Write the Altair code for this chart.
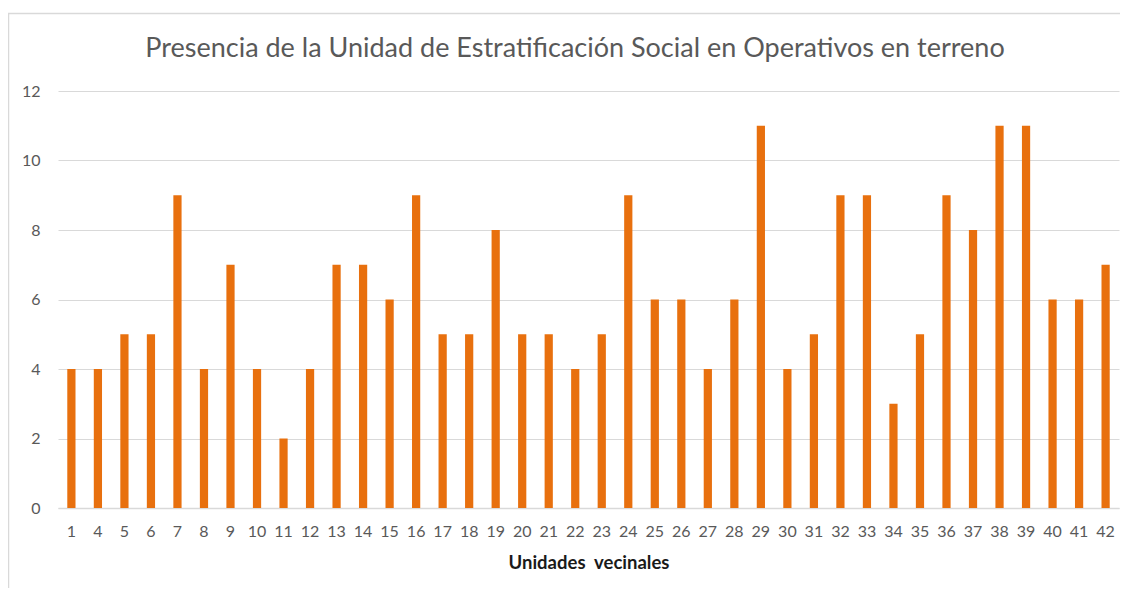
import altair as alt
import pandas as pd

categories = ["1", "4", "5", "6", "7", "8", "9", "10", "11", "12", "13", "14", "15", "16",
              "17", "18", "19", "20", "21", "22", "23", "24", "25", "26", "27", "28", "29",
              "30", "31", "32", "33", "34", "35", "36", "37", "38", "39", "40", "41", "42"]
values = [4, 4, 5, 5, 9, 4, 7, 4, 2, 4, 7, 7, 6, 9, 5, 5, 8, 5, 5, 4, 5, 9, 6, 6, 4, 6, 11,
          4, 5, 9, 9, 3, 5, 9, 8, 11, 11, 6, 6, 7]
title_text = ["Presencia de la Unidad de Estratificación Social en Operativos en terreno"]

df = pd.DataFrame({"uv": categories, "n": values})

FONT = "Lato"
GRAY = "#595959"

bars = alt.Chart(df).mark_bar(color="#E8700E").encode(
    x=alt.X("uv:N", sort=categories,
            scale=alt.Scale(paddingInner=0.69, paddingOuter=0.35),
            axis=alt.Axis(title="Unidades\u00a0\u00a0vecinales", labelAngle=0, ticks=False,
                          domainColor="#d9d9d9", domainWidth=1.5,
                          labelColor=GRAY, labelFontSize=16, labelFont=FONT, labelPadding=15,
                          titleFont=FONT, titleFontSize=18.5, titleFontWeight="bold",
                          titleColor="#1a1a1a", titlePadding=14)),
    y=alt.Y("n:Q", scale=alt.Scale(domain=[0, 12]),
            axis=alt.Axis(title=None, values=[0, 2, 4, 6, 8, 10, 12], ticks=False, domain=False,
                          gridColor="#d9d9d9", gridWidth=1.2,
                          labelColor=GRAY, labelFontSize=16, labelFont=FONT, labelPadding=18)),
)

border_df = pd.DataFrame({"k": [0]})
border = alt.Chart(border_df).mark_rect(fill=None, stroke="#d9d9d9", strokeWidth=1.5, clip=False).encode(
    x=alt.value(-49.5), x2=alt.value(1300), y=alt.value(-77.5), y2=alt.value(700)
)

title_df = pd.DataFrame({"t": title_text})
title = alt.Chart(title_df).mark_text(
    font=FONT, fontSize=27, color=GRAY, align="center", baseline="alphabetic"
).encode(text="t:N", x=alt.value(517), y=alt.value(-34))

chart = alt.layer(border, bars, title).properties(
    width=1061, height=417,
    autosize=alt.AutoSizeParams(type="none"),
    padding={"left": 50, "top": 83, "right": 1, "bottom": 80},
).configure_view(stroke=None)

chart.save("out.html", embed_options={"renderer": "svg", "actions": False})
